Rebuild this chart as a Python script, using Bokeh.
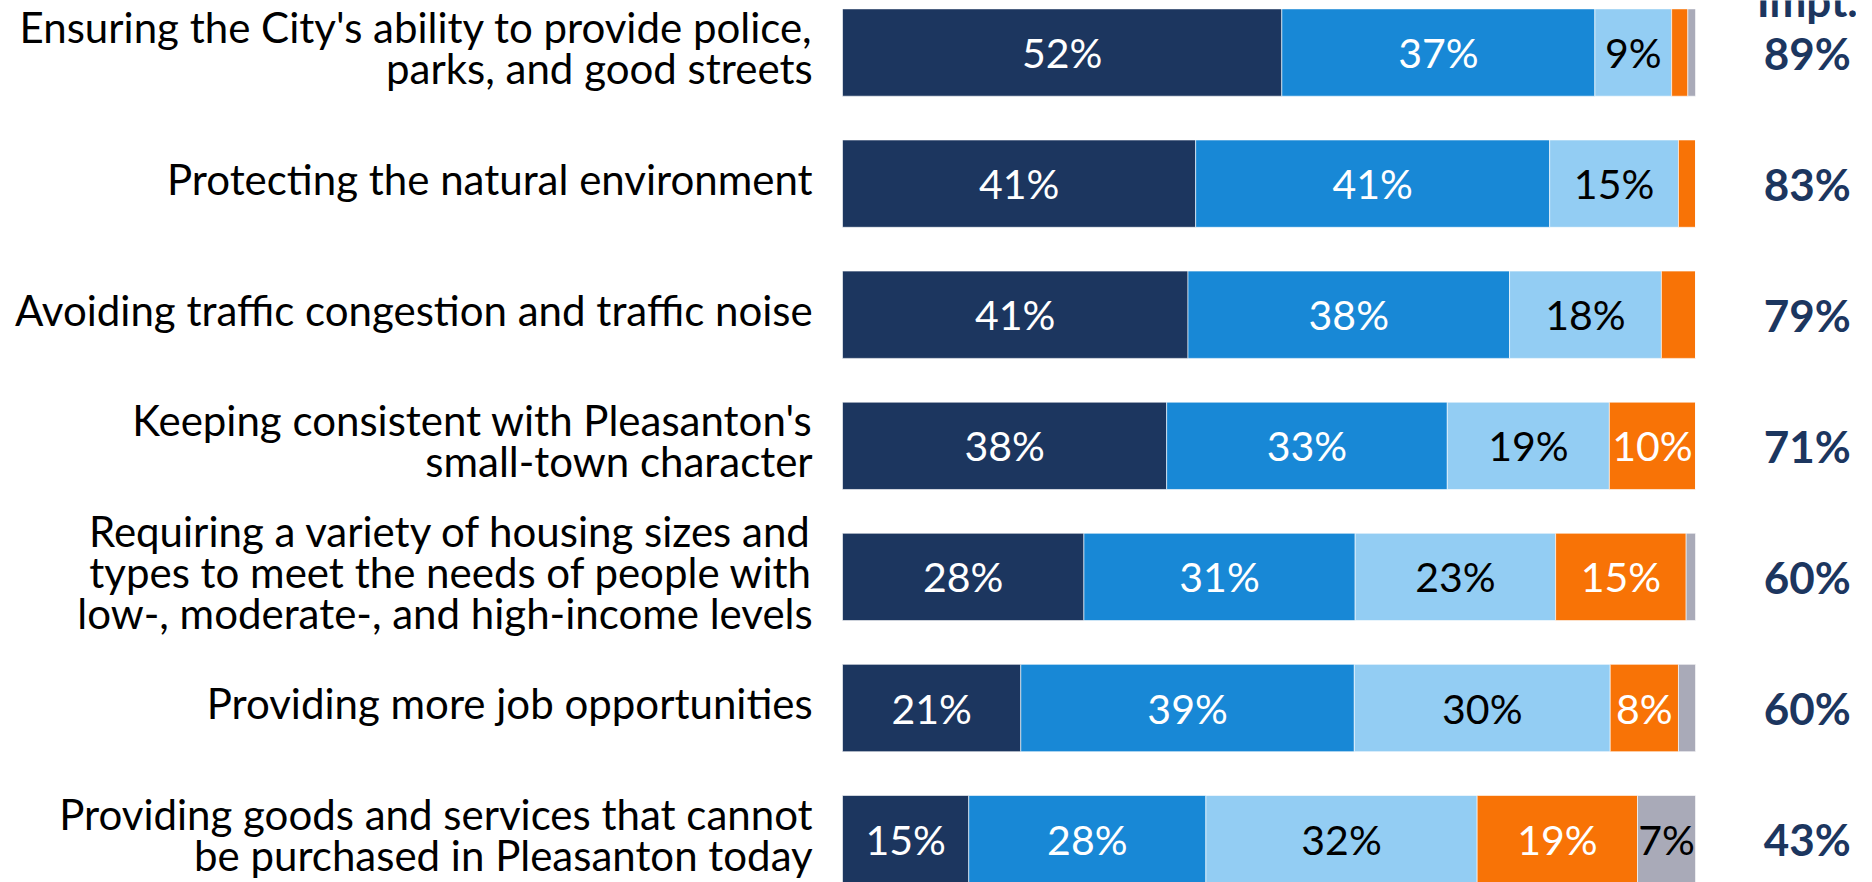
from bokeh.plotting import figure
from bokeh.models import Range1d, ColumnDataSource
from bokeh.core.properties import value
from bokeh.embed import file_html
from bokeh.resources import INLINE

categories = [
    "Ensuring the City's ability to provide police,\nparks, and good streets",
    "Protecting the natural environment",
    "Avoiding traffic congestion and traffic noise",
    "Keeping consistent with Pleasanton's\nsmall-town character",
    "Requiring a variety of housing sizes and\ntypes to meet the needs of people with\nlow-, moderate-, and high-income levels",
    "Providing more job opportunities",
    "Providing goods and services that cannot\nbe purchased in Pleasanton today",
]

series_names = ["Extremely important", "Very important", "Somewhat important",
                "Not too important", "DK/NA"]
extremely = [51.5, 41.4, 40.5, 38.0, 28.3, 20.9, 14.8]
very = [36.7, 41.5, 37.7, 32.9, 31.8, 39.1, 27.8]
somewhat = [9.0, 15.1, 17.8, 19.0, 23.5, 30.0, 31.8]
not_too = [1.9, 2.0, 4.0, 10.1, 15.3, 8.0, 18.8]
dk_na = [0.9, 0.0, 0.0, 0.0, 1.1, 2.0, 6.8]

extremely_lbl = ["52%", "41%", "41%", "38%", "28%", "21%", "15%"]
very_lbl = ["37%", "41%", "38%", "33%", "31%", "39%", "28%"]
somewhat_lbl = ["9%", "15%", "18%", "19%", "23%", "30%", "32%"]
not_too_lbl = ["", "", "", "10%", "15%", "8%", "19%"]
dk_na_lbl = ["", "", "", "", "", "", "7%"]

total_header = "Impt."
total_lbl = ["89%", "83%", "79%", "71%", "60%", "60%", "43%"]

colors = ["#1C365F", "#1888D6", "#93CDF3", "#F87306", "#A9AAB8"]
text_colors = ["white", "white", "black", "white", "black"]

FONT = value("Lato")
NAVY = "#1C365F"

p = figure(width=1856, height=882,
           x_range=Range1d(-98.71, 118.87),
           y_range=Range1d(6.331, -0.397),
           output_backend="svg", toolbar_location=None, min_border=0)
p.axis.visible = False
p.grid.visible = False
p.outline_line_color = None
p.background_fill_color = "white"

ys = list(range(len(categories)))
all_vals = [extremely, very, somewhat, not_too, dk_na]
all_lbls = [extremely_lbl, very_lbl, somewhat_lbl, not_too_lbl, dk_na_lbl]

cum = [0.0] * len(categories)
for vals, lbls, col, tcol, name in zip(all_vals, all_lbls, colors, text_colors, series_names):
    left = cum[:]
    right = [l + v for l, v in zip(left, vals)]
    mid = [(l + r) / 2 for l, r in zip(left, right)]
    src = ColumnDataSource(dict(y=ys, left=left, right=right, mid=mid, lbl=lbls))
    p.hbar(y="y", left="left", right="right", height=0.666, source=src,
           fill_color=col, line_color="white", line_width=1, line_alpha=0.6)
    p.text(x="mid", y="y", text="lbl", source=src, text_align="center",
           text_baseline="middle", text_color=tcol, text_font=FONT,
           text_font_size="41px")
    cum = right

# category labels
p.text(x=[-3.5] * len(categories), y=ys, text=categories, text_align="right",
       text_baseline="middle", text_color="black", text_font=FONT,
       text_font_size="42px", text_line_height=0.82, y_offset=-5)

# totals
p.text(x=[113.1] * len(categories), y=ys, text=total_lbl, text_align="center",
       text_baseline="middle", text_color=NAVY, text_font=FONT,
       text_font_size="44px", text_font_style="bold")
p.text(x=[113.1], y=[-0.336], text=[total_header], text_align="center",
       text_baseline="alphabetic", text_color=NAVY, text_font=FONT,
       text_font_size="44px", text_font_style="bold", y_offset=-8)

open("out.html", "w").write(file_html(p, INLINE))
